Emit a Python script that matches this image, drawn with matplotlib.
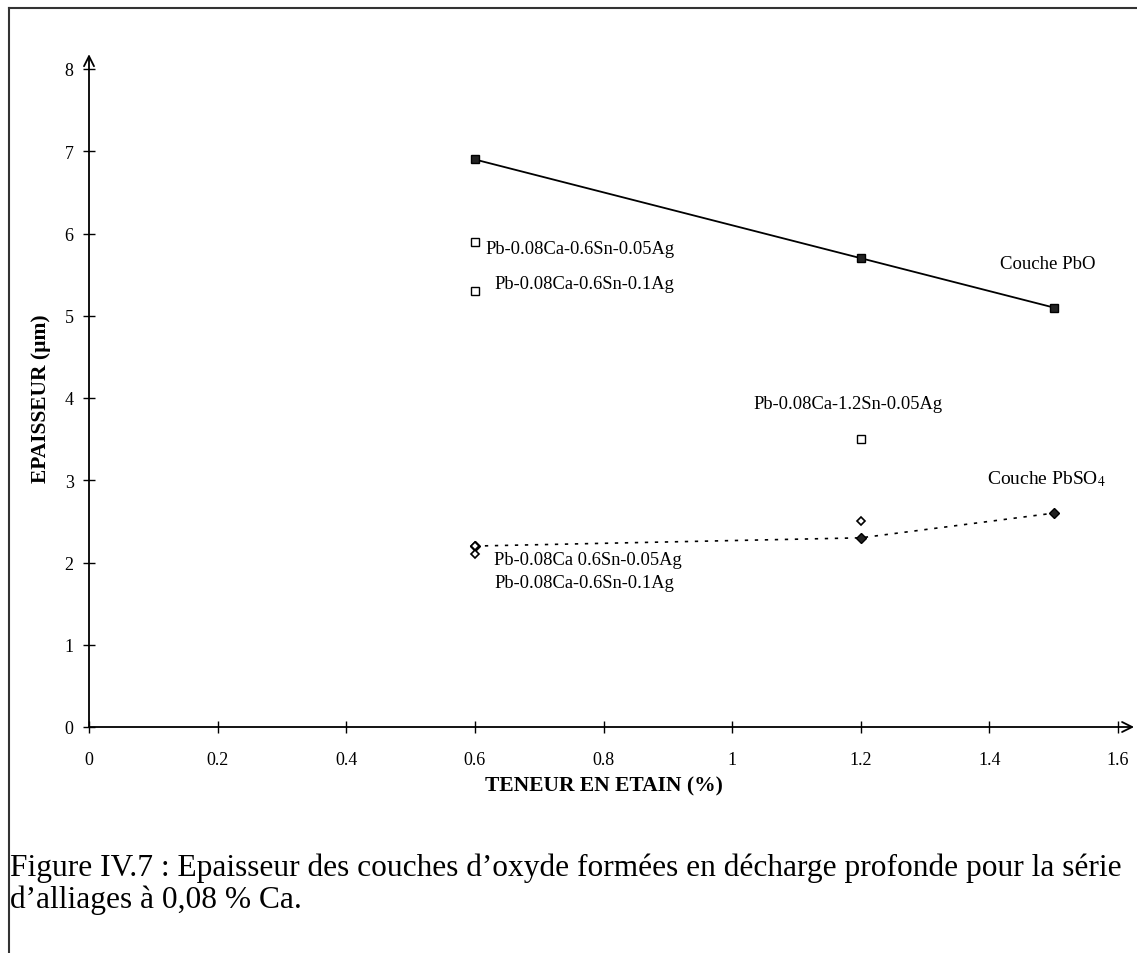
import matplotlib
matplotlib.use('Agg')
import matplotlib.pyplot as plt
from matplotlib.lines import Line2D

plt.rcParams['font.family'] = ['Liberation Serif', 'DejaVu Serif']
plt.rcParams['mathtext.fontset'] = 'stix'

# donnees
teneur_sn = [0.6, 1.2, 1.5]
ep_pbo = [6.9, 5.7, 5.1]
ep_pbso4 = [2.2, 2.3, 2.6]

# points isoles (symboles ouverts)
ouv_carre_x = [0.6, 0.6, 1.2]
ouv_carre_y = [5.9, 5.3, 3.5]
ouv_losange_x = [0.6, 0.6, 1.2]
ouv_losange_y = [2.2, 2.1, 2.5]

x_ticks = [0, 0.2, 0.4, 0.6, 0.8, 1.0, 1.2, 1.4, 1.6]
x_ticklabels = ['0', '0.2', '0.4', '0.6', '0.8', '1', '1.2', '1.4', '1.6']
y_ticks = [0, 1, 2, 3, 4, 5, 6, 7, 8]

fig = plt.figure(figsize=(11.37, 9.54), dpi=100)
ax = fig.add_axes([89 / 1137, 226 / 954, 1029 / 1137, 658 / 954])

# courbe PbO
ax.plot(teneur_sn, ep_pbo, color='black', lw=1.3, marker='s', ms=6,
        mfc='#222222', mec='black', clip_on=False)
# courbe PbSO4 (pointilles)
ax.plot(teneur_sn, ep_pbso4, color='black', lw=1.2, ls=(0, (2, 4)),
        marker='D', ms=5, mfc='#222222', mec='black', clip_on=False)
# symboles ouverts
ax.plot(ouv_carre_x, ouv_carre_y, ls='none', marker='s', ms=6, mfc='white',
        mec='black', mew=1.0)
ax.plot(ouv_losange_x, ouv_losange_y, ls='none', marker='D', ms=4.5,
        mfc='white', mec='black', mew=1.2)

ax.set_xlim(0, 1.6)
ax.set_ylim(0, 8)
for s in ax.spines.values():
    s.set_visible(False)

# axes avec fleches
ax.annotate('', xy=(1.625, 0), xytext=(0, 0), annotation_clip=False,
            arrowprops=dict(arrowstyle='->', lw=1.3, color='black',
                            mutation_scale=18, shrinkA=0, shrinkB=0))
ax.annotate('', xy=(0, 8.18), xytext=(0, 0), annotation_clip=False,
            arrowprops=dict(arrowstyle='->', lw=1.3, color='black',
                            mutation_scale=18, shrinkA=0, shrinkB=0))

ax.set_xticks(x_ticks)
ax.set_xticklabels(x_ticklabels)
ax.set_yticks(y_ticks)
ax.tick_params(axis='x', direction='inout', length=8, width=1, pad=13,
               labelsize=13)
ax.tick_params(axis='y', direction='inout', length=8, width=1, pad=7,
               labelsize=13)

ax.set_xlabel('TENEUR EN ETAIN (%)', fontsize=15.5, fontweight='bold',
              labelpad=6)
ax.set_ylabel('EPAISSEUR (µm)', fontsize=15.5, fontweight='bold', labelpad=10)

# etiquettes
fs = 13.3
ax.text(0.616, 5.82, 'Pb-0.08Ca-0.6Sn-0.05Ag', fontsize=fs, va='center')
ax.text(0.630, 5.39, 'Pb-0.08Ca-0.6Sn-0.1Ag', fontsize=fs, va='center')
ax.text(1.033, 3.93, 'Pb-0.08Ca-1.2Sn-0.05Ag', fontsize=fs, va='center')
ax.text(1.417, 5.63, 'Couche PbO', fontsize=13.5, va='center')
ax.text(1.397, 3.02, 'Couche PbSO$_4$', fontsize=14, va='center')
ax.text(0.630, 2.04, 'Pb-0.08Ca 0.6Sn-0.05Ag', fontsize=fs, va='center')
ax.text(0.630, 1.76, 'Pb-0.08Ca-0.6Sn-0.1Ag', fontsize=fs, va='center')

# legende de la figure
fig.text(10 / 1137, (954 - 876) / 954,
         'Figure IV.7 : Epaisseur des couches d\u2019oxyde formées en décharge profonde pour la série',
         fontsize=22.6, va='baseline', ha='left')
fig.text(10 / 1137, (954 - 908) / 954, 'd\u2019alliages à 0,08 % Ca.',
         fontsize=22.6, va='baseline', ha='left')

# cadre
fig.add_artist(Line2D([9 / 1137, 9 / 1137], [0, 1 - 9 / 954],
                      transform=fig.transFigure, color='#333333', lw=1.5))
fig.add_artist(Line2D([9 / 1137, 1], [1 - 9 / 954, 1 - 9 / 954],
                      transform=fig.transFigure, color='#333333', lw=1.5))

fig.savefig('out.png', dpi=100)
